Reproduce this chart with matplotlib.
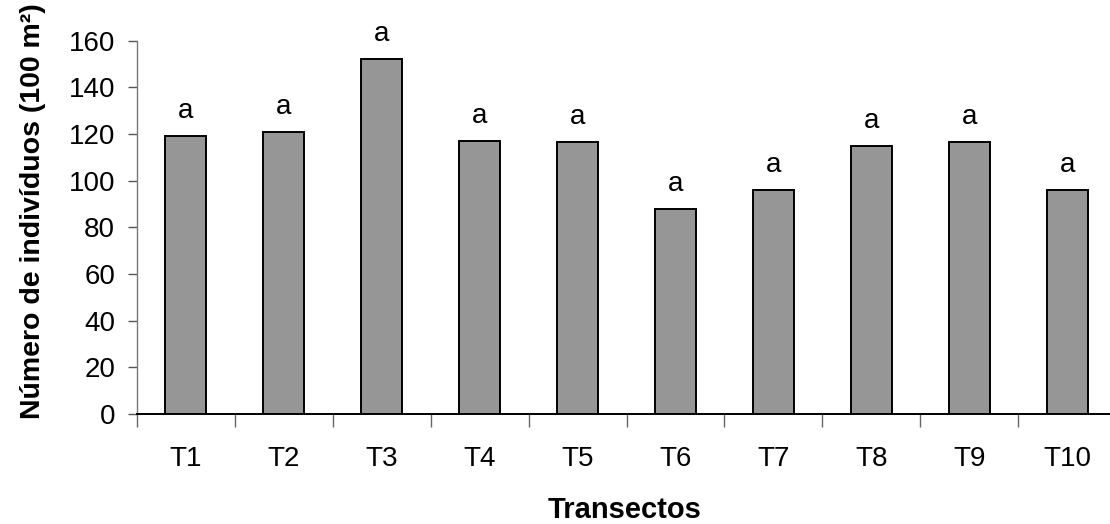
import numpy as np
import matplotlib
matplotlib.use("Agg")
import matplotlib.pyplot as plt

plt.rcParams['font.family'] = ['Liberation Sans', 'DejaVu Sans']

# Número de indivíduos por transecto
transectos = ['T1', 'T2', 'T3', 'T4', 'T5', 'T6', 'T7', 'T8', 'T9', 'T10']
individuos = [119, 121, 152, 117, 116.5, 88, 96, 115, 116.5, 96]
letras = ['a', 'a', 'a', 'a', 'a', 'a', 'a', 'a', 'a', 'a']

fs = 20

fig = plt.figure(figsize=(11.1, 5.24), dpi=100)
# el eje se extiende un poco más allá del borde derecho de la figura
ax = fig.add_axes([136.7 / 1110, 1 - 414 / 524, 979.6 / 1110, 373.3 / 524])

x = np.arange(len(transectos))
ax.bar(x, individuos, width=0.42, color='#969696', edgecolor='black',
       linewidth=1.4, zorder=3)

for xi, yi, letra in zip(x, individuos, letras):
    ax.annotate(letra, (xi, yi), xytext=(0, 13), textcoords='offset points',
                ha='center', va='baseline', fontsize=fs)

ax.set_xlim(-0.5, len(transectos) - 0.5)
ax.set_ylim(0, 160)
ax.set_yticks(np.arange(0, 161, 20))

# marcas entre categorías, etiquetas en el centro
ax.set_xticks(np.arange(-0.5, len(transectos), 1))
ax.set_xticklabels([])
ax.set_xticks(x, minor=True)
ax.set_xticklabels(transectos, minor=True)
ax.tick_params(axis='x', which='major', direction='out', length=9.5,
               width=1, color='#666666')
ax.tick_params(axis='x', which='minor', length=0, pad=23, labelsize=fs)
ax.tick_params(axis='y', direction='out', length=6.5, width=1,
               color='#555555', pad=9, labelsize=fs)

for lado in ['top', 'right']:
    ax.spines[lado].set_visible(False)
ax.spines['left'].set_color('#777777')
ax.spines['left'].set_linewidth(1)
ax.spines['bottom'].set_color('black')
ax.spines['bottom'].set_linewidth(1.4)

ax.set_ylabel('Número de indivíduos (100 m²)', fontsize=20.5, fontweight='bold',
              va='baseline', ha='center')
ax.yaxis.set_label_coords(-0.0987, 0.543)
ax.set_xlabel('Transectos', fontsize=21, fontweight='bold',
              va='baseline', ha='center')
ax.xaxis.set_label_coords(0.4985, -0.2794)

fig.savefig('out.png', dpi=100)
